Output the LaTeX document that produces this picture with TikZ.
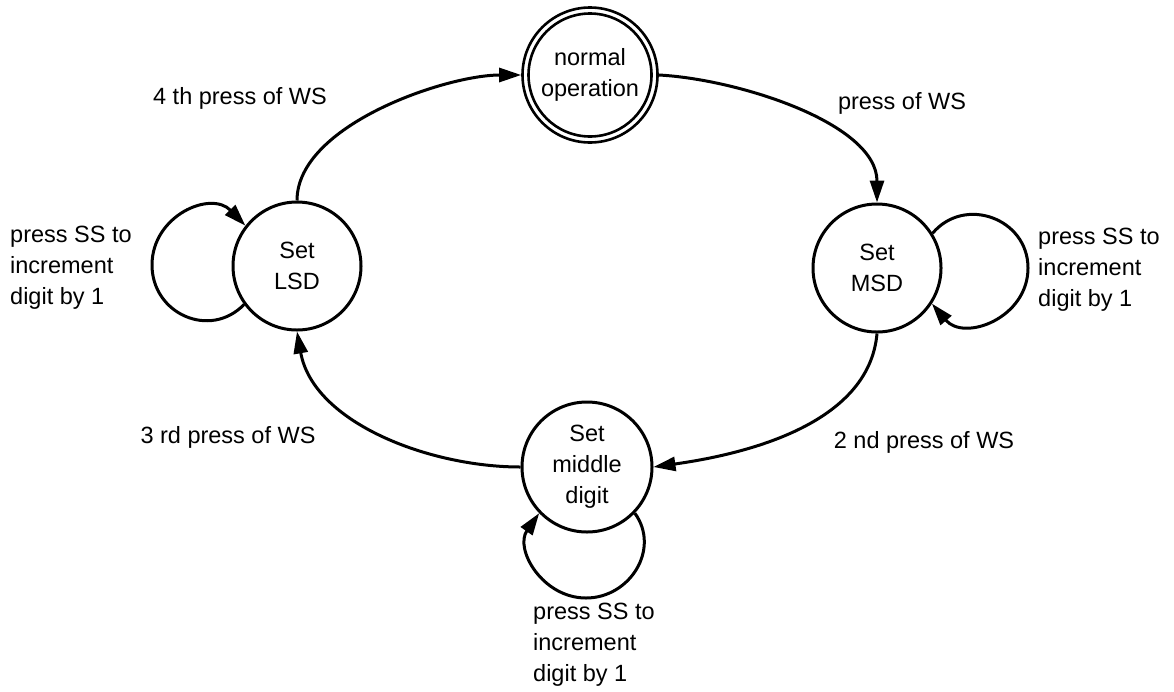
\documentclass[tikz,border=0pt]{standalone}
\usepackage{fontspec}
\setmainfont{Liberation Sans}
\usetikzlibrary{arrows.meta}
\begin{document}
\begin{tikzpicture}[x=1pt,y=1pt,
  state/.style={circle, draw, line width=3pt, inner sep=0pt, align=center, font=\fontsize{23.5}{31}\selectfont},
  lbl/.style={align=left, font=\fontsize{23.5}{31}\selectfont, inner sep=0pt},
  edge/.style={line width=3pt, -{Triangle[length=22pt,width=14pt]}},
]
\useasboundingbox (0,0) rectangle (1174,-691);
\node[state, minimum size=135pt, line width=2.6pt] (N) at (590,-75) {normal\\operation};
\draw[line width=2.6pt] (N.center) circle[radius=61.5pt];
\node[state, minimum size=128pt] (LSD) at (297,-266) {Set\\LSD};
\node[state, minimum size=128pt] (MSD) at (877,-268) {Set\\MSD};
\node[state, minimum size=130pt] (M) at (587,-467) {Set\\middle\\digit};
\coordinate (lsdloop) at (152,-265);
\coordinate (msdloop) at (1028,-268);
\coordinate (mloop) at (586,-598);
\draw[edge] (LSD.216) to[out=226, in=-90, looseness=1.25] (lsdloop) to[out=90, in=134, looseness=1.25] (LSD.142);
\draw[edge] (MSD.32) to[out=50, in=90, looseness=1.25] (msdloop) to[out=-90, in=-50, looseness=1.25] (MSD.-33);
\draw[edge] (M.-44) to[out=-54, in=0, looseness=1.15] (mloop) to[out=180, in=235, looseness=1.15] (M.224);
\draw[edge] (LSD.north) to[out=90, in=180, looseness=0.75] (N.west);
\draw[edge] (N.east) to[out=-3, in=90, looseness=0.8] (MSD.north);
\draw[edge] (MSD.south) to[out=-95, in=8, looseness=0.9] (M.east);
\draw[edge] (M.west) to[out=180, in=-80, looseness=0.9] (LSD.south);
\node[lbl] (l4) at (240,-98) {4 th press of WS};
\node[lbl] (l1) at (902,-103) {press of WS};
\node[lbl, anchor=west] (lL) at (10,-268) {press SS to\\increment\\digit by 1};
\node[lbl, anchor=west] (lR) at (1038,-270) {press SS to\\increment\\digit by 1};
\node[lbl, anchor=west] (lB) at (533,-645) {press SS to\\increment\\digit by 1};
\node[lbl] (l3) at (228,-437) {3 rd press of WS};
\node[lbl] (l2) at (924,-442) {2 nd press of WS};
\end{tikzpicture}
\end{document}
